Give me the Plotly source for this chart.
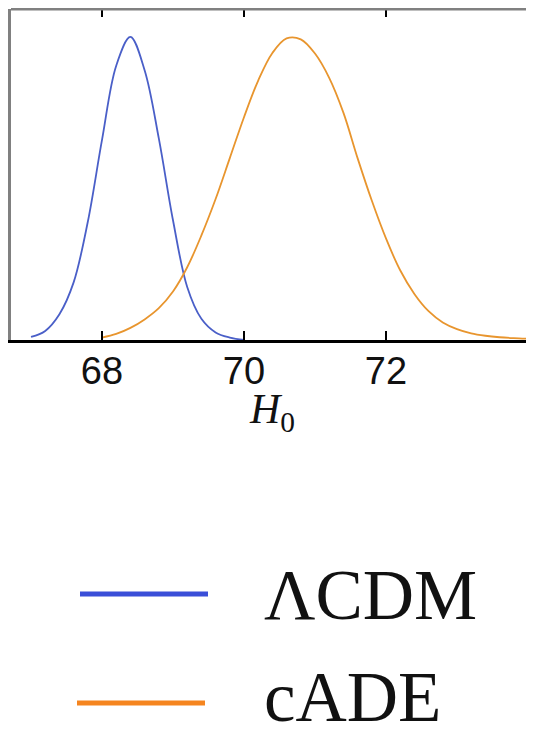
import plotly.graph_objects as go

# ---- data (relative posterior density, peak = 1) ----
h0_lcdm = [67.0, 67.2, 67.4, 67.6, 67.8, 68.0, 68.2, 68.4, 68.6, 68.8,
           69.0, 69.2, 69.4, 69.6, 69.8, 70.0]
p_lcdm = [0.010, 0.030, 0.085, 0.190, 0.390, 0.660, 0.905, 1.0, 0.890, 0.665,
          0.395, 0.175, 0.070, 0.025, 0.008, 0.0]

h0_cade = [68.0, 68.2, 68.4, 68.6, 68.8, 69.0, 69.2, 69.4, 69.6, 69.8,
           70.0, 70.2, 70.4, 70.6, 70.8, 71.0, 71.2, 71.4, 71.6, 71.8,
           72.0, 72.2, 72.4, 72.6, 72.8, 73.0, 73.2, 73.4, 73.6, 73.8, 74.0]
p_cade = [0.008, 0.020, 0.040, 0.068, 0.105, 0.160, 0.240, 0.345, 0.465, 0.600,
          0.735, 0.856, 0.947, 0.995, 0.992, 0.945, 0.865, 0.750, 0.600, 0.460,
          0.335, 0.230, 0.152, 0.095, 0.058, 0.036, 0.022, 0.014, 0.009, 0.006, 0.004]

x_ticks = [68, 70, 72]
x_tick_labels = ["68", "70", "72"]
series_names = ["\u039bCDM", "cADE"]

x_range = [66.718, 74.085]
y_range = [0, 1.092]

fig = go.Figure()
fig.add_trace(go.Scatter(x=h0_lcdm, y=p_lcdm, mode="lines", name=series_names[0],
                         line=dict(color="#4a5fc8", width=1.8, shape="spline", smoothing=1.0),
                         showlegend=False))
fig.add_trace(go.Scatter(x=h0_cade, y=p_cade, mode="lines", name=series_names[1],
                         line=dict(color="#e8952e", width=1.8, shape="spline", smoothing=1.0),
                         showlegend=False))
# invisible trace on the top axis so that the top ticks are drawn
fig.add_trace(go.Scatter(x=[x_range[0]], y=[0], xaxis="x2", mode="markers",
                         marker=dict(opacity=0), showlegend=False, hoverinfo="skip"))

# page body has an 8 px margin, so the figure is 8 px smaller than the window
fig.update_layout(
    width=526, height=721,
    margin=dict(l=3, r=0, t=1, b=389),
    paper_bgcolor="white", plot_bgcolor="white",
    showlegend=False,
    xaxis=dict(range=x_range, tickvals=x_ticks, ticktext=x_tick_labels,
               ticks="inside", ticklen=9, tickwidth=2, tickcolor="black",
               showline=True, linecolor="black", linewidth=3,
               showgrid=False, zeroline=False,
               tickfont=dict(family="Liberation Sans", size=38, color="#111"),
               ticklabelstandoff=-5),
    xaxis2=dict(range=x_range, overlaying="x", side="top", tickvals=x_ticks,
                showticklabels=False, ticks="inside", ticklen=8, tickwidth=2,
                tickcolor="black", showline=False, showgrid=False, zeroline=False),
    yaxis=dict(range=y_range, showticklabels=False, ticks="", showgrid=False,
               zeroline=False, showline=True, linecolor="#808080", linewidth=3),
)

# helpers: window pixel -> paper coordinates of the plot area
def px_x(p):
    return (p - 11) / 523.0

def px_y(p):
    return (340 - p) / 331.0

shapes = [
    dict(type="line", xref="paper", yref="paper", x0=0, x1=1, y0=1, y1=1,
         line=dict(color="#808080", width=3)),
    dict(type="line", xref="paper", yref="paper", x0=px_x(80), x1=px_x(208),
         y0=px_y(594), y1=px_y(594), line=dict(color="#3a4fd8", width=5)),
    dict(type="line", xref="paper", yref="paper", x0=px_x(77), x1=px_x(205),
         y0=px_y(703), y1=px_y(703), line=dict(color="#f5851f", width=5)),
]
fig.update_layout(shapes=shapes)

annotations = [
    dict(text="<i>H</i><sub>0</sub>", xref="paper", yref="paper",
         x=px_x(272), y=px_y(412), xanchor="center", yanchor="middle",
         showarrow=False, font=dict(family="Liberation Serif", size=42, color="#111")),
    dict(text=series_names[0], xref="paper", yref="paper",
         x=px_x(262), y=px_y(595), xanchor="left", yanchor="middle",
         showarrow=False, font=dict(family="Liberation Serif", size=71, color="#111")),
    dict(text=series_names[1], xref="paper", yref="paper",
         x=px_x(262), y=px_y(697), xanchor="left", yanchor="middle",
         showarrow=False, font=dict(family="Liberation Serif", size=71, color="#111")),
]
fig.update_layout(annotations=annotations)

fig.write_html("out.html")
